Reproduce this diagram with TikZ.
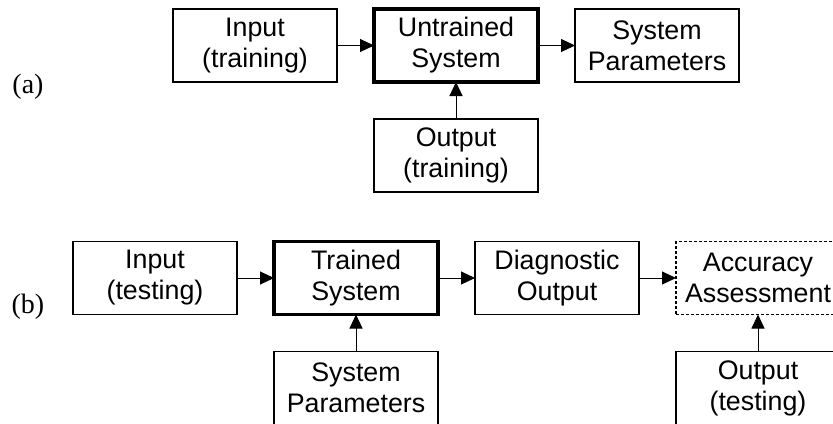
\documentclass[tikz,border=0pt]{standalone}
\usepackage{fontspec}
\setmainfont{Liberation Serif}
\setsansfont{Liberation Sans}
\usepackage{tikz}
\usetikzlibrary{arrows.meta, positioning}
\newcommand{\boxfont}{\sffamily\fontsize{13.4pt}{15.5pt}\selectfont}
\newcommand{\tagfont}{\rmfamily\fontsize{14pt}{16pt}\selectfont}
\tikzset{
  blockbox/.style={
    rectangle, draw=black, line width=0.75pt, outer sep=0pt,
    minimum width=82pt, minimum height=36.5pt, inner sep=1pt,
    align=center, font=\boxfont
  },
  corebox/.style={blockbox, line width=1.6pt},
  evalbox/.style={blockbox, line width=0.75pt, dash pattern=on 1.5pt off 1pt},
  tag/.style={font=\tagfont, inner sep=0pt},
  arrow/.style={line width=0.5pt, -{Triangle[length=7pt, width=6.5pt]}},
}

\begin{document}
\begin{tikzpicture}[x=0.5pt, y=-0.5pt, node distance=18.5pt]

  \useasboundingbox (0,0) rectangle (833,423);
  \clip (0,0) rectangle (833,423);

  % --- (a) training ---
  \node (intrain)   [blockbox] at (255,45.5)        {Input\\(training)};
  \node (untrained) [corebox,  right=of intrain]    {Untrained\\System};
  \node (params)    [blockbox, right=of untrained]  {System\\Parameters};
  \node (outtrain)  [blockbox, below=of untrained]  {Output\\(training)};
  \node (taga)      [tag] at (28,87) {(a)};

  \draw[arrow] (intrain)   -- (untrained);
  \draw[arrow] (untrained) -- (params);
  \draw[arrow] (outtrain)  -- (untrained);

  % --- (b) testing ---
  \node (intest)    [blockbox] at (155,278)         {Input\\(testing)};
  \node (trained)   [corebox,  right=of intest]     {Trained\\System};
  \node (diag)      [blockbox, right=of trained]    {Diagnostic\\Output};
  \node (accuracy)  [evalbox,  right=of diag]       {Accuracy\\Assessment};
  \node (sysparams) [blockbox, below=of trained]    {System\\Parameters};
  \node (outtest)   [blockbox, below=of accuracy]   {Output\\(testing)};
  \node (tagb)      [tag] at (28,307) {(b)};

  \draw[arrow] (intest)    -- (trained);
  \draw[arrow] (trained)   -- (diag);
  \draw[arrow] (diag)      -- (accuracy);
  \draw[arrow] (sysparams) -- (trained);
  \draw[arrow] (outtest)   -- (accuracy);

\end{tikzpicture}
\end{document}
